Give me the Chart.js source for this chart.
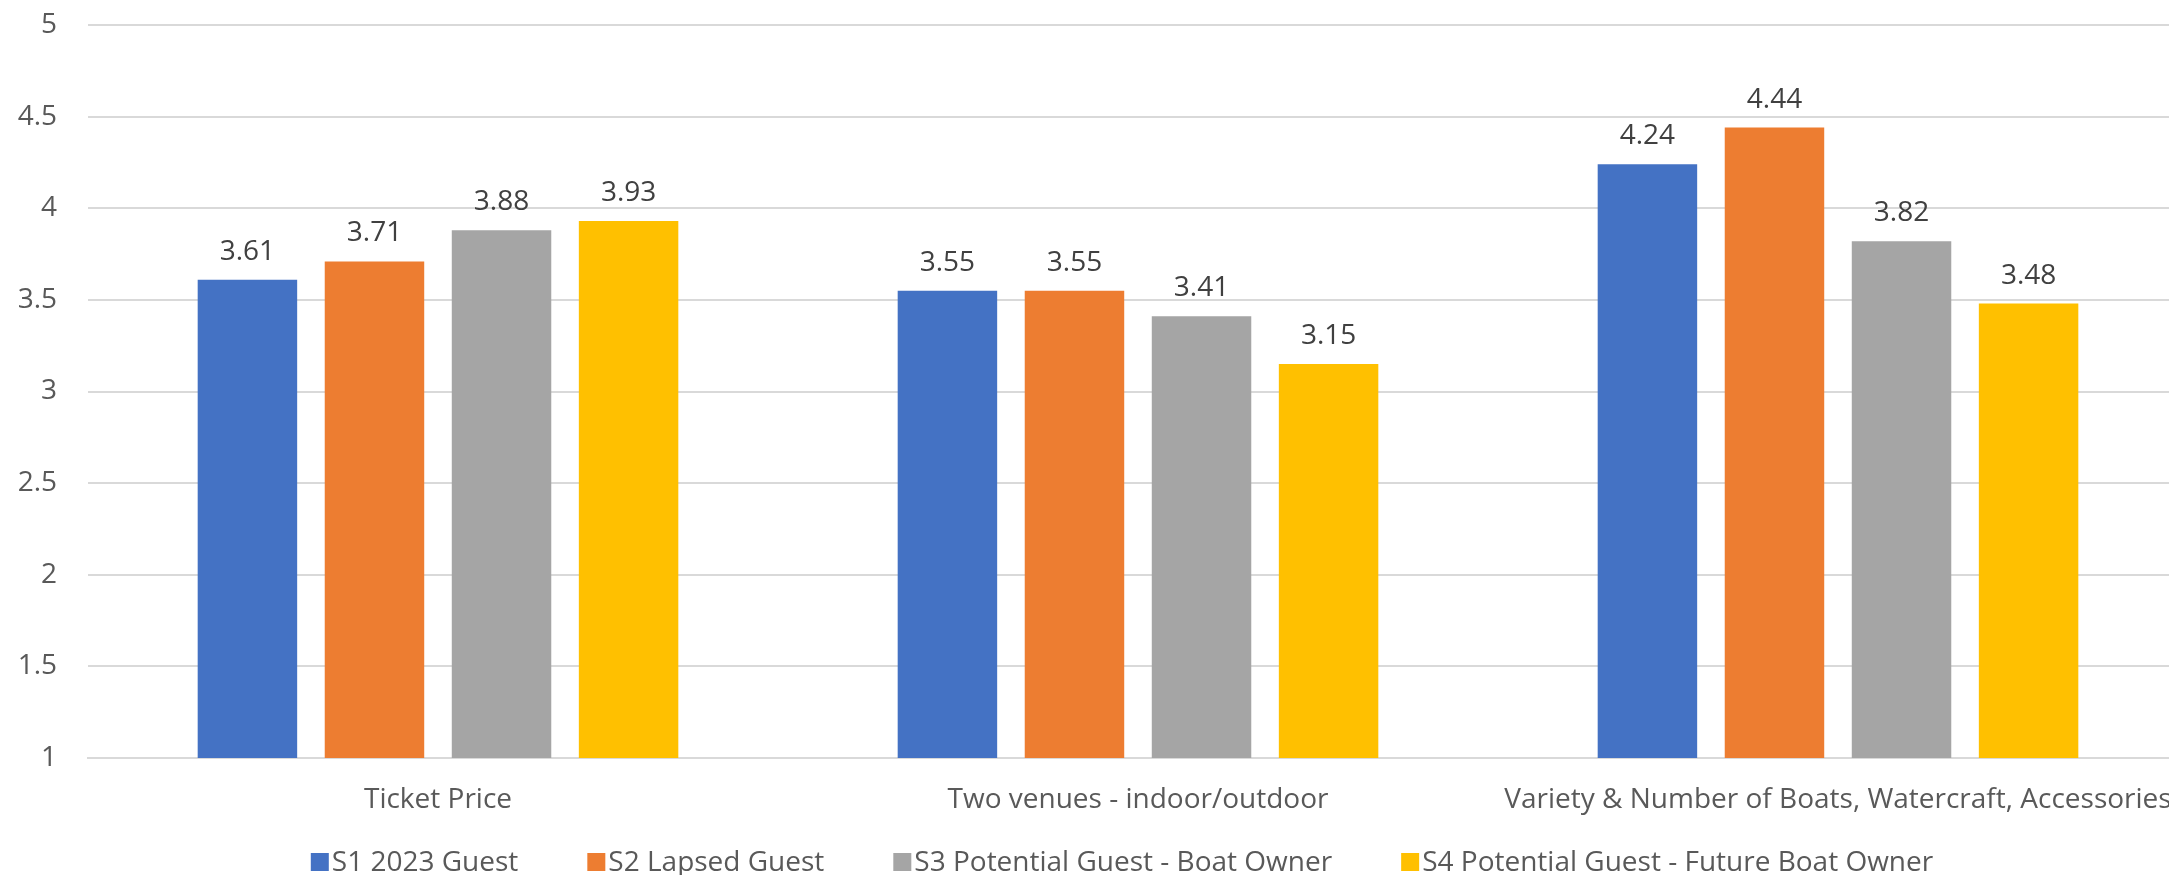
<!DOCTYPE html>
<html lang="en">
<head>
    <meta charset="UTF-8">
    <title>Show Ratings by Segment</title>
    <script src="https://cdn.jsdelivr.net/npm/chart.js"></script>
    <style>
        html, body { margin: 0; padding: 0; background: #ffffff; overflow: hidden; }
        /* chart is a bit wider/taller than the window, like the cropped original */
        #chart-wrap { position: absolute; left: 0; top: 0; width: 2244px; height: 886px; }
    </style>
</head>
<body>
    <div id="chart-wrap">
        <canvas id="ratingChart"></canvas>
    </div>

    <script>
        var categories = ['Ticket Price', 'Two venues - indoor/outdoor', 'Variety & Number of Boats, Watercraft, Accessories'];
        var seriesNames = ['S1 2023 Guest', 'S2 Lapsed Guest', 'S3 Potential Guest - Boat Owner', 'S4 Potential Guest - Future Boat Owner'];
        var s1Values = [3.61, 3.55, 4.24];
        var s2Values = [3.71, 3.55, 4.44];
        var s3Values = [3.88, 3.41, 3.82];
        var s4Values = [3.93, 3.15, 3.48];
        var yMin = 1;
        var yMax = 5;
        var yStep = 0.5;

        var seriesColors = ['#4472C4', '#ED7D31', '#A5A5A5', '#FFC000'];
        var fontFamily = '"Open Sans", "Liberation Sans", sans-serif';

        // draws the value above each bar
        var valueLabels = {
            id: 'valueLabels',
            afterDatasetsDraw: function(chart) {
                var ctx = chart.ctx;
                ctx.save();
                ctx.font = '28px ' + fontFamily;
                ctx.fillStyle = '#404040';
                ctx.textAlign = 'center';
                ctx.textBaseline = 'alphabetic';
                chart.data.datasets.forEach(function(ds, i) {
                    chart.getDatasetMeta(i).data.forEach(function(bar, j) {
                        ctx.fillText(ds.data[j].toFixed(2), bar.x, bar.y - 20);
                    });
                });
                ctx.restore();
            }
        };

        // simple legend row under the axis labels (square, small gap, text)
        var bottomLegend = {
            id: 'bottomLegend',
            afterDraw: function(chart) {
                var ctx = chart.ctx;
                var box = 18, textGap = 3, itemGap = 69;
                var boxTop = 853, baseline = 871;
                ctx.save();
                ctx.font = '28px ' + fontFamily;
                ctx.textAlign = 'left';
                ctx.textBaseline = 'alphabetic';
                var items = chart.data.datasets.map(function(ds) {
                    return { text: ds.label, color: ds.backgroundColor, w: ctx.measureText(ds.label).width };
                });
                var total = 0;
                items.forEach(function(it, i) {
                    total += box + textGap + it.w + (i > 0 ? itemGap : 0);
                });
                var x = chart.width / 2 - total / 2;
                items.forEach(function(it) {
                    ctx.fillStyle = it.color;
                    ctx.fillRect(x, boxTop, box, box);
                    ctx.fillStyle = '#595959';
                    ctx.fillText(it.text, x + box + textGap, baseline);
                    x += box + textGap + it.w + itemGap;
                });
                ctx.restore();
            }
        };

        var allValues = [s1Values, s2Values, s3Values, s4Values];
        var datasets = seriesNames.map(function(name, i) {
            return {
                label: name,
                data: allValues[i],
                backgroundColor: seriesColors[i],
                borderWidth: 0
            };
        });

        var ctx = document.getElementById('ratingChart').getContext('2d');
        var ratingChart = new Chart(ctx, {
            type: 'bar',
            data: {
                labels: categories,
                datasets: datasets
            },
            options: {
                responsive: true,
                maintainAspectRatio: false,
                animation: false,
                layout: {
                    padding: { left: 0, right: 56, top: 25, bottom: 66 }
                },
                datasets: {
                    bar: { categoryPercentage: 0.726, barPercentage: 0.783 }
                },
                scales: {
                    x: {
                        grid: { display: false, drawTicks: false },
                        border: { display: true, color: '#D9D9D9', width: 2 },
                        ticks: {
                            color: '#595959',
                            font: { family: fontFamily, size: 28 },
                            padding: 25,
                            maxRotation: 0,
                            autoSkip: false
                        },
                        afterFit: function(scale) { scale.height = 62; }
                    },
                    y: {
                        min: yMin,
                        max: yMax,
                        ticks: {
                            stepSize: yStep,
                            padding: 3,
                            color: '#595959',
                            font: { family: fontFamily, size: 28 },
                            callback: function(v) { return String(v); }
                        },
                        grid: {
                            color: '#D9D9D9',
                            lineWidth: 2,
                            drawTicks: true,
                            tickLength: 28,
                            tickColor: 'rgba(0,0,0,0)'
                        },
                        border: { display: false },
                        afterFit: function(scale) { scale.width = 88; }
                    }
                },
                plugins: {
                    legend: { display: false },
                    tooltip: { enabled: false }
                }
            },
            plugins: [valueLabels, bottomLegend]
        });
    </script>
</body>
</html>
